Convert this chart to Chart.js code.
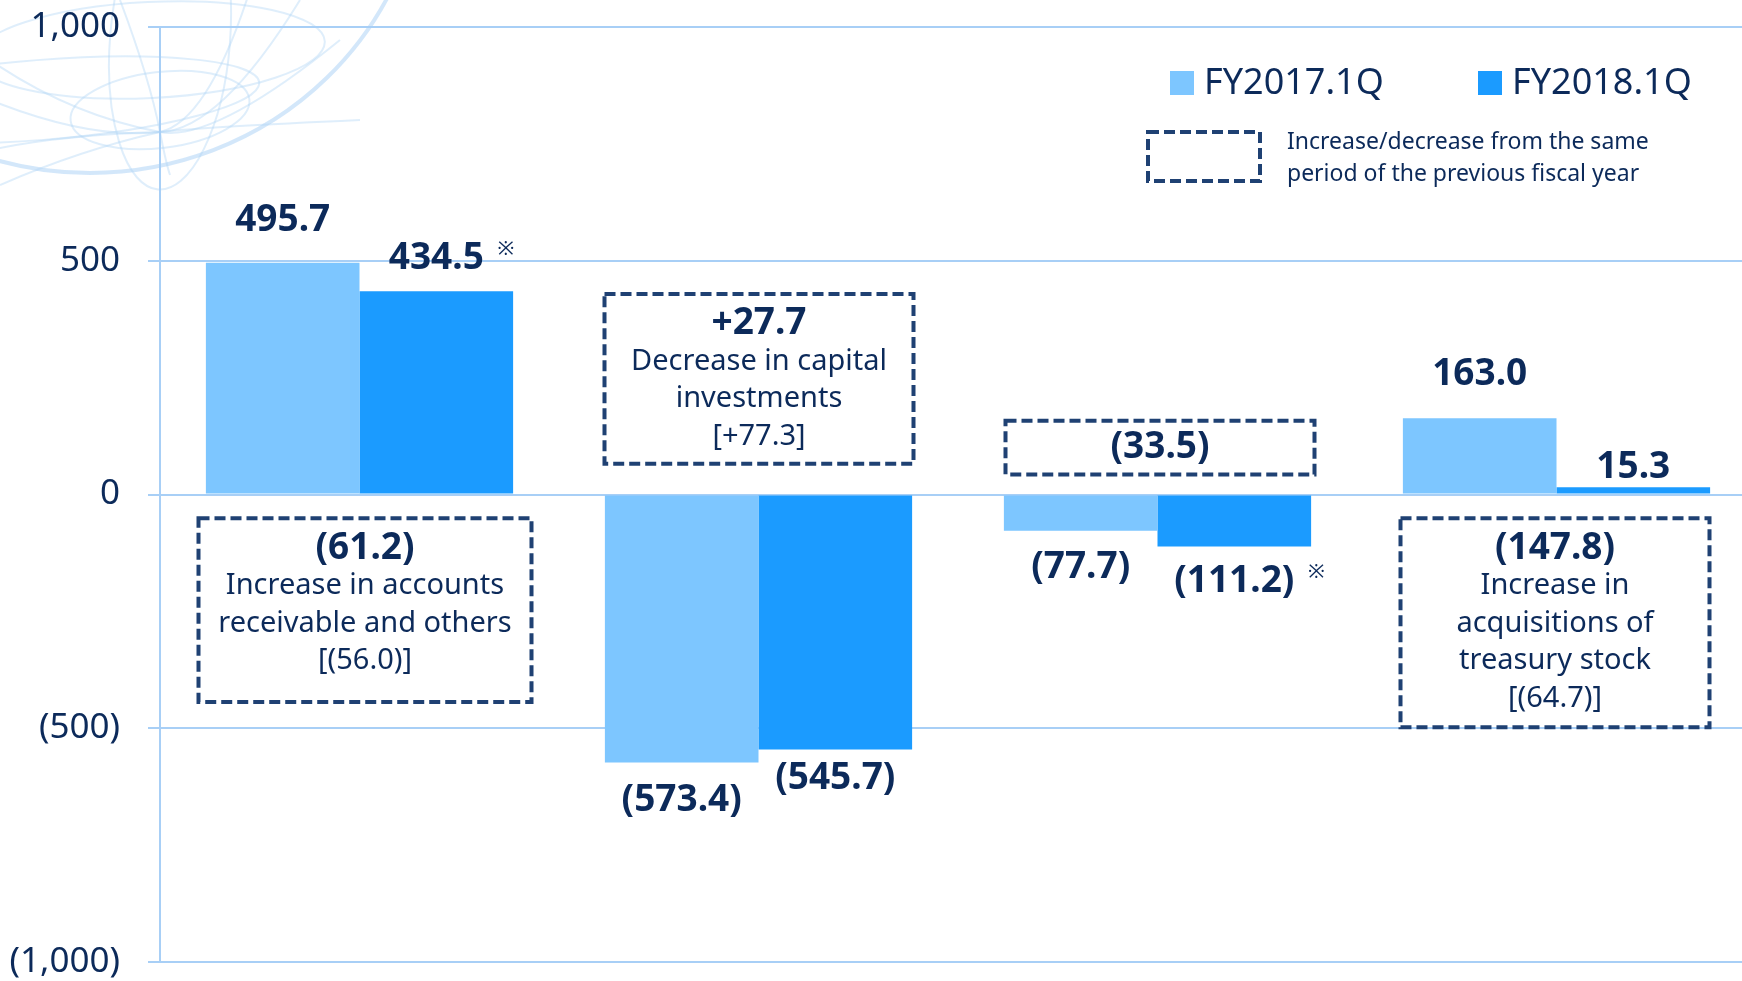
<!DOCTYPE html>
<html>
<head>
<meta charset="utf-8">
<script src="https://cdn.jsdelivr.net/npm/chart.js@4.4.0/dist/chart.umd.min.js"></script>
<style>
  html, body { margin: 0; padding: 0; background: #fff; overflow: hidden; width: 1742px; height: 981px; }
  #wrap { width: 1760px; height: 981px; }
</style>
</head>
<body>
<div id="wrap"><canvas id="cfChart"></canvas></div>
<script>
// cash flow blocks (labels are not printed on the slide)
const categories = ["Operating CF", "Investing CF", "Free CF", "Financing CF"];
const fy2017 = [495.7, -573.4, -77.7, 163.0];
const fy2018 = [434.5, -545.7, -111.2, 15.3];
const seriesNames = ["FY2017.1Q", "FY2018.1Q"];
const footnoteMarks = ["※", "", "※", ""]; // on the FY2018 labels
const yTicks = [-1000, -500, 0, 500, 1000];

// change vs. previous year, shown in dashed boxes
const changeValues = ["(61.2)", "+27.7", "(33.5)", "(147.8)"];
const changeNotes = [
  ["Increase in accounts", "receivable and others", "[(56.0)]"],
  ["Decrease in capital", "investments", "[+77.3]"],
  [],
  ["Increase in", "acquisitions of", "treasury stock", "[(64.7)]"],
];
const legendNote = ["Increase/decrease from the same", "period of the previous fiscal year"];

const NAVY = "#0c2a5a";
const BOX = "#1f4173";
const GRID = "#a8cff6";
const FONT = "'Noto Sans', 'Open Sans', sans-serif";
const DASH = [11, 5];

const fmt = (v) => {
  const s = Math.abs(v).toLocaleString("en-US", { minimumFractionDigits: 1, maximumFractionDigits: 1 });
  return v < 0 ? "(" + s + ")" : s;
};

// faint globe drawing in the top-left corner
const globeBg = {
  id: "globeBg",
  beforeDraw(chart) {
    const ctx = chart.ctx;
    ctx.save();
    // outer rim
    ctx.strokeStyle = "rgba(175, 212, 245, 0.55)";
    ctx.lineWidth = 4;
    ctx.beginPath();
    ctx.ellipse(90, -152, 335, 325, 0, 0, Math.PI * 2);
    ctx.stroke();
    ctx.strokeStyle = "rgba(175, 212, 245, 0.4)";
    ctx.lineWidth = 2;
    const ells = [
      [150, 50, 175, 48, -0.05],
      [160, 110, 90, 38, -0.12],
      [40, 100, 220, 40, -0.08],
      [170, 40, 60, 150, 0.08],
    ];
    ells.forEach(([x, y, rx, ry, r]) => {
      ctx.beginPath();
      ctx.ellipse(x, y, rx, ry, r, 0, Math.PI * 2);
      ctx.stroke();
    });
    // meridians meeting near the axis
    const curves = [
      [-10, 60, 70, 115, 340, 40],
      [-10, 150, 60, 135, 300, 0],
      [0, 185, 80, 150, 250, -10],
      [-10, 100, 90, 140, 360, 120],
      [120, 0, 150, 80, 170, 175],
    ];
    curves.forEach(([x0, y0, cx, cy, x1, y1]) => {
      ctx.beginPath();
      ctx.moveTo(x0, y0);
      ctx.quadraticCurveTo(cx, cy, 160, 132);
      ctx.quadraticCurveTo(160 + (160 - cx) * 0.6, 132 + (132 - cy) * 0.6, x1, y1);
      ctx.stroke();
    });
    ctx.restore();
  },
};

// value labels, change boxes and the hand-made legend
const annotations = {
  id: "annotations",
  afterDatasetsDraw(chart, args, opts) {
    const ctx = chart.ctx;
    const xs = chart.scales.x;
    const ys = chart.scales.y;
    ctx.save();
    ctx.fillStyle = NAVY;
    ctx.textAlign = "center";
    ctx.textBaseline = "middle";

    // bar labels
    chart.data.datasets.forEach((ds, di) => {
      const meta = chart.getDatasetMeta(di);
      meta.data.forEach((bar, j) => {
        const v = ds.data[j];
        const gap = opts.gaps[di][j];
        const y = v >= 0 ? bar.y - gap : bar.y + gap;
        ctx.font = "bold 37px " + FONT;
        const txt = fmt(v);
        ctx.fillText(txt, bar.x, y);
        if (di === 1 && footnoteMarks[j]) {
          const w = ctx.measureText(txt).width;
          ctx.font = "20px " + FONT;
          ctx.fillText(footnoteMarks[j], bar.x + w / 2 + 22, y - 9);
        }
      });
    });

    // dashed change boxes
    ctx.setLineDash(DASH);
    ctx.lineWidth = 4;
    ctx.strokeStyle = BOX;
    opts.boxes.forEach(([dl, dr, vTop, vBot], i) => {
      const cx = xs.getPixelForValue(i);
      const top = ys.getPixelForValue(vTop);
      const bot = ys.getPixelForValue(vBot);
      ctx.strokeRect(cx + dl, top, dr - dl, bot - top);
      const mid = cx + (dl + dr) / 2;
      const lines = changeNotes[i];
      let ty = lines.length ? top + 30 : (top + bot) / 2;
      ctx.font = "bold 37px " + FONT;
      ctx.fillText(changeValues[i], mid, ty);
      ctx.font = "29px " + FONT;
      lines.forEach((ln) => {
        ty += 37.5;
        ctx.fillText(ln, mid, ty);
      });
    });

    // legend
    ctx.setLineDash([]);
    ctx.textAlign = "left";
    ctx.font = "36px " + FONT;
    const lx = [1170, 1478];
    chart.data.datasets.forEach((ds, di) => {
      ctx.fillStyle = ds.backgroundColor;
      ctx.fillRect(lx[di], 71, 24, 24);
      ctx.fillStyle = NAVY;
      ctx.fillText(seriesNames[di], lx[di] + 34, 84);
    });
    ctx.setLineDash(DASH);
    ctx.strokeRect(1148, 132, 112, 49);
    ctx.setLineDash([]);
    ctx.font = "23px " + FONT;
    ctx.fillText(legendNote[0], 1287, 142);
    ctx.fillText(legendNote[1], 1287, 174);
    ctx.restore();
  },
};

new Chart(document.getElementById("cfChart"), {
  type: "bar",
  data: {
    labels: categories,
    datasets: [
      { label: seriesNames[0], data: fy2017, backgroundColor: "#7dc6ff" },
      { label: seriesNames[1], data: fy2018, backgroundColor: "#1b9bff" },
    ],
  },
  options: {
    responsive: true,
    maintainAspectRatio: false,
    animation: false,
    categoryPercentage: 0.77,
    barPercentage: 1.0,
    layout: { padding: { top: 27, bottom: 19, left: 9, right: 4 } },
    plugins: {
      legend: { display: false },
      tooltip: { enabled: false },
      annotations: {
        gaps: [
          [42, 38, 37, 44],
          [33, 29, 35, 20],
        ],
        boxes: [
          [-161, 172, -51, -444],
          [-154, 155, 429, 66],
          [-152, 157, 158, 43],
          [-156, 153, -51, -498],
        ],
      },
    },
    scales: {
      x: { display: false },
      y: {
        min: -1000,
        max: 1000,
        afterBuildTicks: (axis) => {
          axis.ticks = yTicks.map((v) => ({ value: v }));
        },
        afterFit: (axis) => {
          axis.width = 151;
          axis.paddingTop = 0;
          axis.paddingBottom = 0;
        },
        ticks: {
          color: NAVY,
          padding: 28,
          font: { size: 35, family: FONT },
          callback: (v) => (v < 0 ? "(" + Math.abs(v).toLocaleString("en-US") + ")" : v.toLocaleString("en-US")),
        },
        grid: { color: GRID, lineWidth: 2, tickLength: 12 },
        border: { display: true, color: GRID, width: 2 },
      },
    },
  },
  plugins: [globeBg, annotations],
});
</script>
</body>
</html>
